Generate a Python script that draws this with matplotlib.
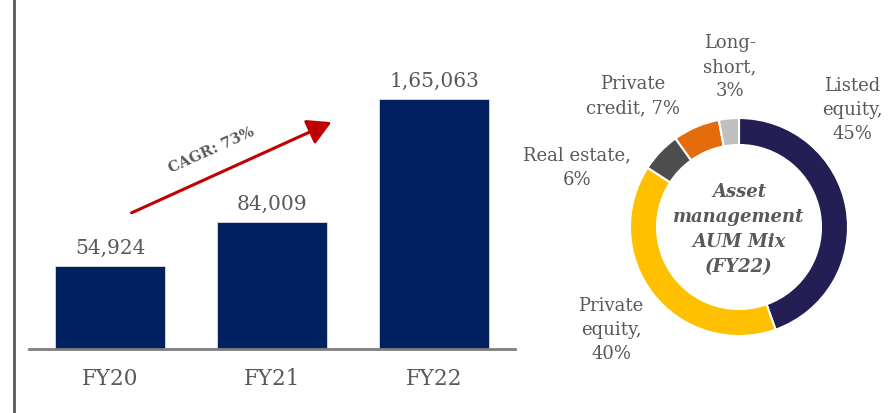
import matplotlib
matplotlib.use("Agg")
import matplotlib.pyplot as plt

# ---- data ----
years = ["FY20", "FY21", "FY22"]
aum = [54924, 84009, 165063]
aum_labels = ["54,924", "84,009", "1,65,063"]
cagr_text = "CAGR: 73%"

mix_names = ["Listed\nequity,\n45%", "Private\nequity,\n40%", "Real estate,\n6%",
             "Private\ncredit, 7%", "Long-\nshort,\n3%"]
mix_values = [45, 40, 6, 7, 3]
mix_colors = ["#231F55", "#FFC000", "#4D4D4D", "#E46C0A", "#BFBFBF"]
center_text = "Asset\nmanagement\nAUM Mix\n(FY22)"

W, H = 893, 413
plt.rcParams['font.family'] = ['DejaVu Serif']
TXT = "#595959"

fig = plt.figure(figsize=(W / 100, H / 100), dpi=100)

def fx(px):
    return px / W

def fy(py):
    return 1 - py / H

# left vertical rule
fig.add_artist(plt.Line2D([fx(14), fx(14)], [0, 1], color="#595959", lw=2))

# ---- bar chart ----
ax = fig.add_axes([fx(29), fy(349), (515 - 29) / W, 349 / H])
x = range(len(years))
bars = ax.bar(x, aum, width=0.685, color="#002060", edgecolor="#D9DDE8", linewidth=0.6, zorder=2)
ax.set_xlim(-0.5, 2.5)
ax.set_ylim(0, 165063 * 349 / 250)
for sp in ["top", "right", "left"]:
    ax.spines[sp].set_visible(False)
ax.spines["bottom"].set_color("#7F7F7F")
ax.spines["bottom"].set_linewidth(2)
ax.set_yticks([])
ax.set_xticks(list(x))
ax.set_xticklabels(years, fontsize=15.5, color=TXT)
ax.tick_params(axis="x", length=0, pad=14)
for xi, v, lab in zip(x, aum, aum_labels):
    ax.annotate(lab, (xi, v), xytext=(0, 6), textcoords="offset points",
                ha="center", va="bottom", fontsize=14.5, color=TXT)

# CAGR arrow
fig.add_artist(matplotlib.patches.FancyArrowPatch(
    (fx(129), fy(214)), (fx(334), fy(121)), transform=fig.transFigure,
    arrowstyle="-|>,head_length=9,head_width=5", color="#C00000", lw=2.2,
    mutation_scale=1.6))
fig.text(fx(212), fy(150), cagr_text, rotation=24.3, ha="center", va="center",
         fontsize=10.5, fontweight="bold", color=TXT)

# ---- donut ----
cx, cy, half = 739, 227, 120
dax = fig.add_axes([fx(cx - half), fy(cy + half), 2 * half / W, 2 * half / H])
dax.pie(mix_values, colors=mix_colors, startangle=90, counterclock=False,
        radius=109 / half, wedgeprops=dict(width=27 / half, edgecolor="white", linewidth=1.5))
dax.set_xlim(-1, 1)
dax.set_ylim(-1, 1)
dax.set_aspect("equal")
dax.axis("off")
dax.text(0, -0.02, center_text, ha="center", va="center", fontsize=13,
         fontweight="bold", fontstyle="italic", color=TXT, linespacing=1.5)

label_pos = [(852, 110), (611, 330), (577, 168), (633, 96), (730, 67)]
for name, (px, py) in zip(mix_names, label_pos):
    fig.text(fx(px), fy(py), name, ha="center", va="center", fontsize=13,
             color=TXT, linespacing=1.45)

fig.savefig("out.png", dpi=100)
